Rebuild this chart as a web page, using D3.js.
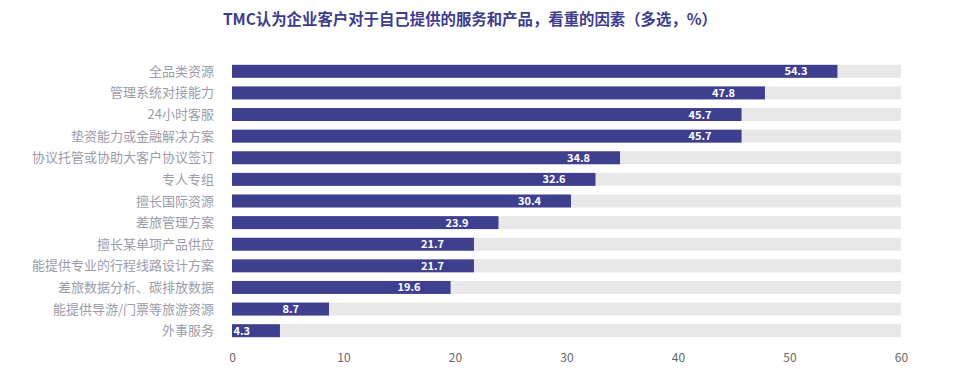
<!DOCTYPE html>
<html><head><meta charset="utf-8">
<script src="https://cdn.jsdelivr.net/npm/d3@7"></script>
<style>body{margin:0;background:#fff;}svg{display:block;font-family:"Noto Sans CJK SC","Noto Sans",sans-serif;}</style>
</head><body><svg id="c" width="960" height="369"></svg>
<script>
const categories = ["全品类资源","管理系统对接能力","24小时客服","垫资能力或金融解决方案","协议托管或协助大客户协议签订","专人专组","擅长国际资源","差旅管理方案","擅长某单项产品供应","能提供专业的行程线路设计方案","差旅数据分析、碳排放数据","能提供导游/门票等旅游资源","外事服务"];
const values = [54.3,47.8,45.7,45.7,34.8,32.6,30.4,23.9,21.7,21.7,19.6,8.7,4.3];
const xTicks = [0,10,20,30,40,50,60];
const title = "TMC认为企业客户对于自己提供的服务和产品，看重的因素（多选，%）";

const svg = d3.select("#c");
const x = d3.scaleLinear().domain([0,60]).range([232,901]);
const y = d3.scaleBand().domain(categories).range([60.5,341.5]).paddingInner(0.4).paddingOuter(0.2);

svg.append("text").attr("x",470).attr("y",25).attr("text-anchor","middle")
  .attr("font-size",15.4).attr("font-weight","bold").attr("fill","#3d3d8f").text(title);

const g = svg.append("g");
g.selectAll("rect.bg").data(categories).join("rect").attr("class","bg")
  .attr("x",x(0)).attr("y",d=>y(d)).attr("width",x(60)-x(0)).attr("height",y.bandwidth()).attr("fill","#e8e8e8");
g.selectAll("rect.v").data(values).join("rect").attr("class","v")
  .attr("x",x(0)).attr("y",(d,i)=>y(categories[i])).attr("width",d=>x(d)-x(0)).attr("height",y.bandwidth()).attr("fill","#3f3f8f");
g.selectAll("text.val").data(values).join("text").attr("class","val")
  .attr("x",d=>Math.max(x(d)-30, x(0)+1+ (d<6?17:0))).attr("y",(d,i)=>y(categories[i])+y.bandwidth()/2+4)
  .attr("text-anchor","end").attr("font-size",11).attr("font-weight","bold").attr("fill","#fff").text(d=>d.toFixed(1));
g.selectAll("text.cat").data(categories).join("text").attr("class","cat")
  .attr("x",214).attr("y",d=>y(d)+y.bandwidth()/2+4.5).attr("text-anchor","end")
  .attr("font-size",13).attr("fill","#9c9caa").text(d=>d);

const ax = svg.append("g").attr("transform","translate(0,347)")
  .call(d3.axisBottom(x).tickValues(xTicks).tickSize(0).tickPadding(6));
ax.select(".domain").remove();
ax.selectAll("text").attr("font-size",12).attr("fill","#666").attr("font-family","\"Noto Sans CJK SC\",sans-serif");
</script></body></html>
